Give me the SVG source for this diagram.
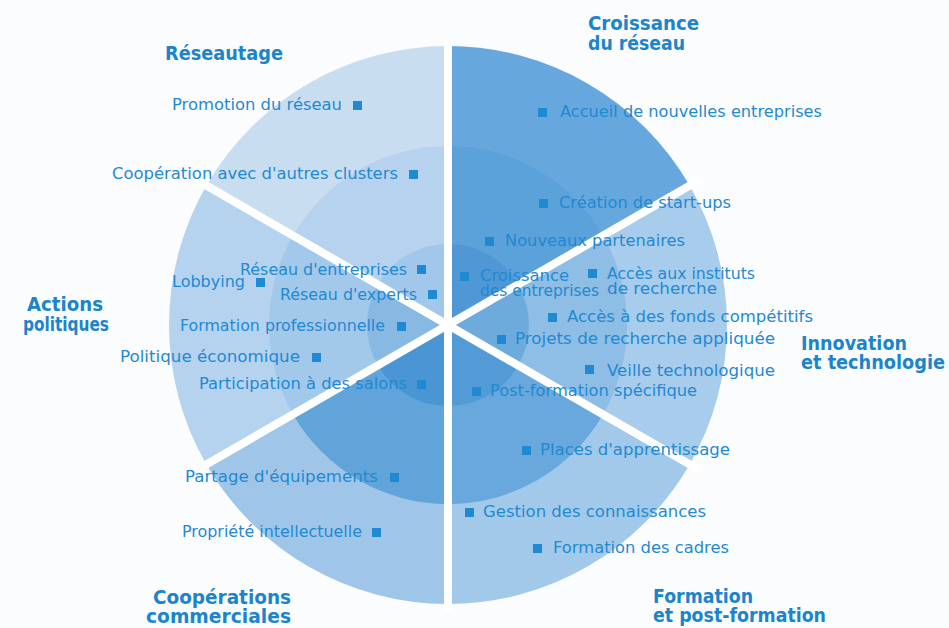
<svg xmlns="http://www.w3.org/2000/svg" width="949" height="628" viewBox="0 0 949 628">
<style>
.it{font-family:"DejaVu Sans","Liberation Sans",sans-serif;font-size:15.8px;fill:#1f89d2}
.ti{font-family:"DejaVu Sans","Liberation Sans",sans-serif;font-size:20px;font-weight:bold;fill:#1a84cc}
.sq{fill:#1f89d2}
.div{stroke:#ffffff;stroke-width:8;fill:none}
</style>
<rect width="949" height="628" fill="#fbfcfe"/>
<g id="sectors">
<g id="sector-croissance">
<path d="M448,325 L448,46 A279,279 0 0,1 689.6,185.5 Z" fill="#66a8dd"/>
<path d="M448,325 L448,146 A179,179 0 0,1 603,235.5 Z" fill="#5ba1da"/>
<path d="M448,325 L448,244 A81,81 0 0,1 518.1,284.5 Z" fill="#4f98d5"/>
</g>
<g id="sector-innovation">
<path d="M448,325 L689.6,185.5 A279,279 0 0,1 689.6,464.5 Z" fill="#a8cceb"/>
<path d="M448,325 L603,235.5 A179,179 0 0,1 603,414.5 Z" fill="#8ebde6"/>
<path d="M448,325 L518.1,284.5 A81,81 0 0,1 518.1,365.5 Z" fill="#6dabdd"/>
</g>
<g id="sector-formation">
<path d="M448,325 L689.6,464.5 A279,279 0 0,1 448,604 Z" fill="#a3c9ea"/>
<path d="M448,325 L603,414.5 A179,179 0 0,1 448,504 Z" fill="#68a8dc"/>
<path d="M448,325 L518.1,365.5 A81,81 0 0,1 448,406 Z" fill="#529bd6"/>
</g>
<g id="sector-cooperations">
<path d="M448,325 L448,604 A279,279 0 0,1 206.4,464.5 Z" fill="#9fc6e9"/>
<path d="M448,325 L448,504 A179,179 0 0,1 293,414.5 Z" fill="#60a4da"/>
<path d="M448,325 L448,406 A81,81 0 0,1 377.9,365.5 Z" fill="#4a95d3"/>
</g>
<g id="sector-actions">
<path d="M448,325 L206.4,464.5 A279,279 0 0,1 206.4,185.5 Z" fill="#b5d3ef"/>
<path d="M448,325 L293,414.5 A179,179 0 0,1 293,235.5 Z" fill="#a2c8ea"/>
<path d="M448,325 L377.9,365.5 A81,81 0 0,1 377.9,284.5 Z" fill="#87b9e3"/>
</g>
<g id="sector-reseautage">
<path d="M448,325 L206.4,185.5 A279,279 0 0,1 448,46 Z" fill="#c9ddf1"/>
<path d="M448,325 L293,235.5 A179,179 0 0,1 448,146 Z" fill="#b6d2ee"/>
<path d="M448,325 L377.9,284.5 A81,81 0 0,1 448,244 Z" fill="#a1c7ea"/>
</g>
</g>
<g id="connectors">
<line class="div" x1="448" y1="40" x2="448" y2="610"/>
<line class="div" x1="700.2" y1="179.5" x2="195.8" y2="470.5"/>
<line class="div" x1="195.8" y1="179.5" x2="700.2" y2="470.5"/>
</g>
<g id="title-reseautage"><text class="ti" x="165" y="60" textLength="118" lengthAdjust="spacingAndGlyphs">Réseautage</text></g>
<g id="title-croissance">
<text class="ti" x="588" y="30" textLength="111" lengthAdjust="spacingAndGlyphs">Croissance</text>
<text class="ti" x="588" y="50" textLength="97" lengthAdjust="spacingAndGlyphs">du réseau</text>
</g>
<g id="title-actions">
<text class="ti" x="65" y="311" text-anchor="middle" textLength="76" lengthAdjust="spacingAndGlyphs">Actions</text>
<text class="ti" x="66" y="331" text-anchor="middle" textLength="86" lengthAdjust="spacingAndGlyphs">politiques</text>
</g>
<g id="title-innovation">
<text class="ti" x="801" y="350" textLength="106" lengthAdjust="spacingAndGlyphs">Innovation</text>
<text class="ti" x="801" y="369" textLength="144" lengthAdjust="spacingAndGlyphs">et technologie</text>
</g>
<g id="title-cooperations">
<text class="ti" x="291" y="604" text-anchor="end" textLength="138" lengthAdjust="spacingAndGlyphs">Coopérations</text>
<text class="ti" x="291" y="623" text-anchor="end" textLength="145" lengthAdjust="spacingAndGlyphs">commerciales</text>
</g>
<g id="title-formation">
<text class="ti" x="653" y="603" textLength="100" lengthAdjust="spacingAndGlyphs">Formation</text>
<text class="ti" x="653" y="622" textLength="173" lengthAdjust="spacingAndGlyphs">et post-formation</text>
</g>
<g id="items-left">
<text class="it" x="342" y="110" text-anchor="end" textLength="170" lengthAdjust="spacingAndGlyphs">Promotion du réseau</text><rect class="sq" x="353" y="101" width="9" height="9"/>
<text class="it" x="398" y="179" text-anchor="end" textLength="286" lengthAdjust="spacingAndGlyphs">Coopération avec d'autres clusters</text><rect class="sq" x="409" y="170" width="9" height="9"/>
<text class="it" x="407" y="275" text-anchor="end" textLength="167" lengthAdjust="spacingAndGlyphs">Réseau d'entreprises</text><rect class="sq" x="417" y="265" width="9" height="9"/>
<text class="it" x="245" y="287" text-anchor="end" textLength="73" lengthAdjust="spacingAndGlyphs">Lobbying</text><rect class="sq" x="256" y="278" width="9" height="9"/>
<text class="it" x="417" y="300" text-anchor="end" textLength="137" lengthAdjust="spacingAndGlyphs">Réseau d'experts</text><rect class="sq" x="428" y="290" width="9" height="9"/>
<text class="it" x="385" y="331" text-anchor="end" textLength="205" lengthAdjust="spacingAndGlyphs">Formation professionnelle</text><rect class="sq" x="397" y="322" width="9" height="9"/>
<text class="it" x="300" y="362" text-anchor="end" textLength="180" lengthAdjust="spacingAndGlyphs">Politique économique</text><rect class="sq" x="312" y="353" width="9" height="9"/>
<text class="it" x="407" y="389" text-anchor="end" textLength="208" lengthAdjust="spacingAndGlyphs">Participation à des salons</text><rect class="sq" x="417" y="380" width="9" height="9"/>
<text class="it" x="378" y="482" text-anchor="end" textLength="193" lengthAdjust="spacingAndGlyphs">Partage d'équipements</text><rect class="sq" x="390" y="473" width="9" height="9"/>
<text class="it" x="362" y="537" text-anchor="end" textLength="180" lengthAdjust="spacingAndGlyphs">Propriété intellectuelle</text><rect class="sq" x="372" y="528" width="9" height="9"/>
</g>
<g id="items-right">
<rect class="sq" x="538" y="108" width="9" height="9"/><text class="it" x="560" y="117" textLength="262" lengthAdjust="spacingAndGlyphs">Accueil de nouvelles entreprises</text>
<rect class="sq" x="539" y="199" width="9" height="9"/><text class="it" x="559" y="208" textLength="172" lengthAdjust="spacingAndGlyphs">Création de start-ups</text>
<rect class="sq" x="485" y="237" width="9" height="9"/><text class="it" x="505" y="246" textLength="180" lengthAdjust="spacingAndGlyphs">Nouveaux partenaires</text>
<rect class="sq" x="460" y="272" width="9" height="9"/><text class="it" x="480" y="281" textLength="89" lengthAdjust="spacingAndGlyphs">Croissance</text>
<text class="it" x="480" y="296" textLength="119" lengthAdjust="spacingAndGlyphs">des entreprises</text>
<rect class="sq" x="588" y="269" width="9" height="9"/><text class="it" x="607" y="279" textLength="148" lengthAdjust="spacingAndGlyphs">Accès aux instituts</text>
<text class="it" x="607" y="294" textLength="110" lengthAdjust="spacingAndGlyphs">de recherche</text>
<rect class="sq" x="548" y="313" width="9" height="9"/><text class="it" x="567" y="322" textLength="246" lengthAdjust="spacingAndGlyphs">Accès à des fonds compétitifs</text>
<rect class="sq" x="497" y="335" width="9" height="9"/><text class="it" x="515" y="344" textLength="260" lengthAdjust="spacingAndGlyphs">Projets de recherche appliquée</text>
<rect class="sq" x="585" y="365" width="9" height="9"/><text class="it" x="607" y="376" textLength="168" lengthAdjust="spacingAndGlyphs">Veille technologique</text>
<rect class="sq" x="472" y="387" width="9" height="9"/><text class="it" x="490" y="396" textLength="207" lengthAdjust="spacingAndGlyphs">Post-formation spécifique</text>
<rect class="sq" x="522" y="446" width="9" height="9"/><text class="it" x="540" y="455" textLength="190" lengthAdjust="spacingAndGlyphs">Places d'apprentissage</text>
<rect class="sq" x="465" y="508" width="9" height="9"/><text class="it" x="483" y="517" textLength="223" lengthAdjust="spacingAndGlyphs">Gestion des connaissances</text>
<rect class="sq" x="533" y="544" width="9" height="9"/><text class="it" x="553" y="553" textLength="176" lengthAdjust="spacingAndGlyphs">Formation des cadres</text>
</g>
</svg>
